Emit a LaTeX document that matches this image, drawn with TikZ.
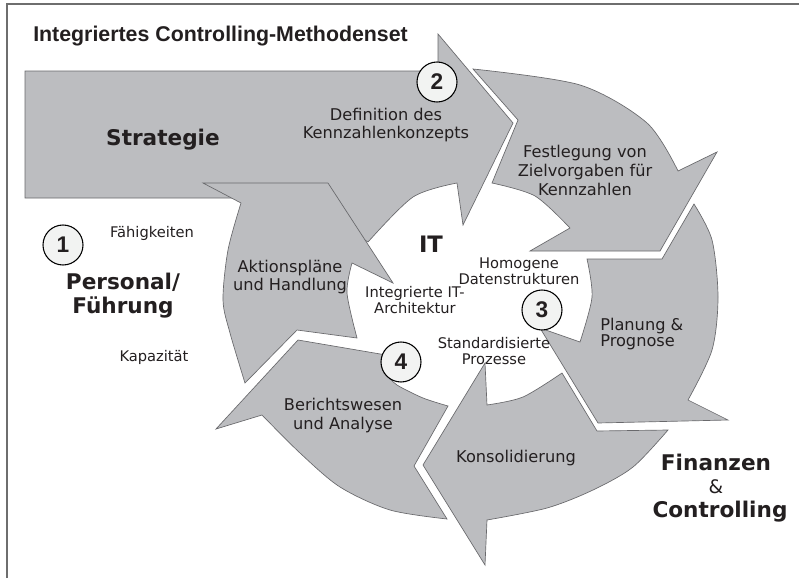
\documentclass[tikz,border=0pt]{standalone}
\usepackage{fontspec}
\setmainfont{DejaVu Sans}
\newfontfamily\arialfont{Liberation Sans}
\definecolor{arrowfill}{RGB}{188,189,192}
\definecolor{arrowline}{RGB}{105,105,108}
\definecolor{txt}{RGB}{35,31,32}
\definecolor{circfill}{RGB}{242,243,242}
\definecolor{framec}{RGB}{110,110,110}
\begin{document}
\begin{tikzpicture}[x=0.75pt,y=-0.75pt,
  arrowshape/.style={fill=arrowfill, draw=arrowline, line width=0.5pt, line join=miter},
  lbl/.style={text=txt, inner sep=0pt, font=\fontsize{12.15}{13.5}\selectfont, align=center, anchor=base},
  small/.style={text=txt, inner sep=0pt, font=\fontsize{11}{12}\selectfont, align=center, anchor=base},
  big/.style={text=txt, inner sep=0pt, font=\fontsize{16.2}{18}\selectfont\bfseries, align=center, anchor=base},
  numcirc/.style={circle, draw=black, line width=0.8pt, fill=circfill, minimum size=30pt, inner sep=0pt,
    font=\arialfont\bfseries\fontsize{17}{17}\selectfont, text=txt}]
\useasboundingbox (0,0) rectangle (799,578);
\fill[white] (0,0) rectangle (799,578);
\draw[framec, line width=1pt] (7,578) -- (7,4) -- (799,4);

% Strategie / Definition arrow
\path[arrowshape] (25,71) -- (438,71) -- (438,34) -- (513,123) -- (463,225) -- (457,183)
  -- plot[smooth] coordinates {(457,183) (413,197) (368,242)} -- (300,198) -- (25,198) -- cycle;
% Aktionsplaene arrow
\path[arrowshape] (245,383) -- plot[smooth] coordinates {(245,383) (230,333) (223,300) (228,250) (241,203)}
  -- (203,183) -- (328,183) -- (393,283) -- (352,263)
  -- plot[smooth] coordinates {(352,263) (347,293) (357,338)} -- (297,330) -- cycle;
% Festlegung arrow
\path[arrowshape] (473,69) -- (518,120) -- (492,183)
  -- plot[smooth] coordinates {(492,183) (535,196) (570,228)} -- (530,251) -- (660,251) -- (717,152) -- (678,171)
  -- plot[smooth] coordinates {(678,171) (647,123) (580,85) (473,69)} -- cycle;
% Planung arrow
\path[arrowshape] (587,259) -- (662,259) -- (694,204)
  -- plot[smooth] coordinates {(694,204) (712,240) (718,297) (712,350) (688,400)}
  -- (728,420) -- (598,423) -- (540,328) -- (580,342)
  -- plot[smooth] coordinates {(580,342) (592,297) (587,259)} -- cycle;
% Konsolidierung arrow
\path[arrowshape] (562,373) -- (597,431) -- (668,430)
  -- plot[smooth] coordinates {(668,430) (633,467) (593,490) (547,508) (487,520)}
  -- (485,565) -- (423,465) -- (485,363) -- (487,405)
  -- plot[smooth] coordinates {(487,405) (523,397) (562,373)} -- cycle;
% Berichtswesen arrow
\path[arrowshape] (448,406) -- plot[smooth] coordinates {(448,406) (423,398) (397,385) (387,375)}
  -- (392,356) -- (298,340) -- (216,429) -- (262,415)
  -- plot[smooth] coordinates {(262,415) (300,453) (340,487) (390,510) (447,519)} -- (414,466) -- cycle;

% number circles
\node[numcirc] (c1) at (63,245) {1};
\node[numcirc] (c2) at (437,82) {2};
\node[numcirc] (c3) at (542,310) {3};
\node[numcirc] (c4) at (401,362) {4};

% texts (anchor base = baseline of the last line)
\node[anchor=base west, inner sep=0pt, text=txt, font=\arialfont\bfseries\fontsize{16}{18}\selectfont] (title) at (33,41) {Integriertes Controlling-Methodenset};
\node[big] (strat) at (163,145) {Strategie};
\node[lbl] (defi) at (386,138) {Definition des\\Kennzahlenkonzepts};
\node[lbl, font=\fontsize{12.15}{14.25}\selectfont] (fest) at (585,195) {Festlegung von\\Zielvorgaben für\\Kennzahlen};
\node[lbl, align=left, anchor=base west, font=\fontsize{12.15}{11.5}\selectfont] (plan) at (600,346) {Planung \&\\Prognose};
\node[lbl] (kons) at (516,462) {Konsolidierung};
\node[lbl, font=\fontsize{12.15}{14.25}\selectfont] (beri) at (343,429) {Berichtswesen\\und Analyse};
\node[lbl] (akti) at (290,290) {Aktionspläne\\und Handlung};
\node[big, font=\fontsize{17}{18}\selectfont\bfseries] (it) at (431,252) {IT};
\node[small] (homo) at (519,284) {Homogene\\Datenstrukturen};
\node[small, font=\fontsize{11}{10.5}\selectfont] (inte) at (415,313) {Integrierte IT-\\Architektur};
\node[small] (stan) at (494,364) {Standardisierte\\Prozesse};
\node[small] (faeh) at (152,237) {Fähigkeiten};
\node[small] (kapa) at (154,361) {Kapazität};
\node[big] (pers) at (123,313) {Personal/\\Führung};
\node[big] (fina) at (716,470) {Finanzen};
\node[lbl, font=\fontsize{14}{14}\selectfont] (amp) at (716,493) {\&};
\node[big] (cont) at (720,517) {Controlling};
\end{tikzpicture}
\end{document}
